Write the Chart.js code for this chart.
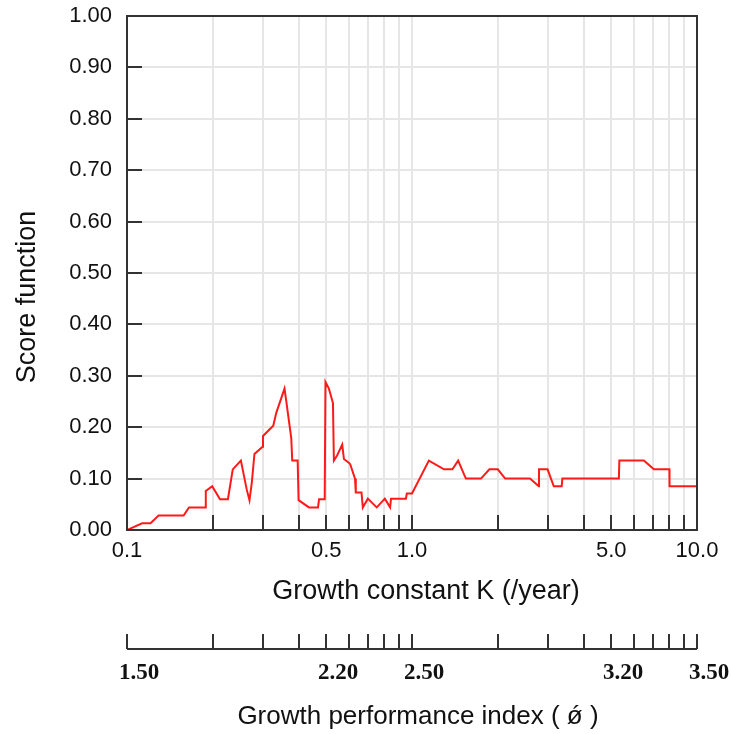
<!DOCTYPE html>
<html>
<head>
<meta charset="utf-8">
<script src="https://cdn.jsdelivr.net/npm/chart.js@4/dist/chart.umd.min.js"></script>
<style>
  html, body { margin: 0; padding: 0; background: #ffffff; }
  #wrap { width: 731px; height: 734px; position: relative; }
</style>
</head>
<body>
<div id="wrap"><canvas id="c" width="731" height="734"></canvas></div>
<script>
// Growth constant K (/year) and the ELEFAN score function at each K
const growthK = [0.1, 0.113, 0.121, 0.129, 0.158, 0.165, 0.188, 0.189, 0.199, 0.212,
  0.226, 0.235, 0.251, 0.263, 0.269, 0.274, 0.280, 0.299, 0.300, 0.326,
  0.334, 0.357, 0.361, 0.377, 0.380, 0.397, 0.400, 0.435, 0.468, 0.472,
  0.494, 0.497, 0.511, 0.528, 0.532, 0.546, 0.569, 0.577, 0.600, 0.607,
  0.631, 0.635, 0.665, 0.672, 0.700, 0.752, 0.803, 0.838, 0.844, 0.952,
  0.959, 1.0, 1.146, 1.295, 1.386, 1.452, 1.545, 1.746, 1.869, 2.0,
  2.123, 2.594, 2.785, 2.79, 2.99, 3.144, 3.352, 3.37, 5.32, 5.34,
  6.51, 7.06, 8.0, 8.01, 10];
const scoreValues = [0, 0.013, 0.013, 0.028, 0.028, 0.044, 0.044, 0.076, 0.085, 0.060,
  0.060, 0.118, 0.135, 0.079, 0.058, 0.091, 0.148, 0.162, 0.183, 0.203,
  0.228, 0.275, 0.256, 0.179, 0.135, 0.135, 0.058, 0.044, 0.044, 0.060,
  0.060, 0.288, 0.275, 0.247, 0.135, 0.145, 0.166, 0.138, 0.131, 0.128,
  0.100, 0.073, 0.073, 0.044, 0.061, 0.044, 0.061, 0.044, 0.061, 0.061,
  0.071, 0.071, 0.135, 0.118, 0.118, 0.135, 0.100, 0.100, 0.118, 0.118,
  0.100, 0.100, 0.085, 0.118, 0.118, 0.085, 0.085, 0.100, 0.100, 0.135,
  0.135, 0.118, 0.118, 0.085, 0.085];

// Axis ticks
const kTicks = [0.1, 0.2, 0.3, 0.4, 0.5, 0.6, 0.7, 0.8, 0.9, 1, 2, 3, 4, 5, 6, 7, 8, 9, 10];
const kLabelled = [0.1, 0.5, 1, 5, 10];
const scoreTicks = [0, 0.1, 0.2, 0.3, 0.4, 0.5, 0.6, 0.7, 0.8, 0.9, 1];
// Growth performance index: phi' = log10(K) + phiOffset
const phiLabelledK = [0.1, 0.5, 1, 5, 10];
const phiOffset = 2.5;

const SANS = "'Liberation Sans', Arial, sans-serif";
const SERIF = "'Liberation Serif', 'Times New Roman', serif";
const INK = '#333333';

const frameAndExtras = {
  id: 'frameAndExtras',
  afterDraw(chart) {
    const { ctx, chartArea: a, scales: { x, y } } = chart;
    ctx.save();
    ctx.strokeStyle = INK;
    ctx.lineWidth = 2;
    ctx.lineCap = 'butt';

    // inward tick marks
    ctx.beginPath();
    scoreTicks.forEach(v => {
      if (v <= 0 || v >= 1) return;
      const py = Math.round(y.getPixelForValue(v));
      ctx.moveTo(a.left, py); ctx.lineTo(a.left + 15, py);
    });
    kTicks.forEach(v => {
      if (v <= 0.1 || v >= 10) return;
      const px = Math.round(x.getPixelForValue(v));
      ctx.moveTo(px, a.bottom); ctx.lineTo(px, a.bottom - 15);
    });
    ctx.stroke();

    // plot frame
    ctx.strokeRect(a.left, a.top, a.right - a.left, a.bottom - a.top);

    // axis titles
    ctx.fillStyle = '#111111';
    ctx.textAlign = 'center';
    ctx.textBaseline = 'middle';
    ctx.font = '27px ' + SANS;
    ctx.fillText('Growth constant K (/year)', 426, 592);
    ctx.save();
    ctx.translate(28, 297);
    ctx.rotate(-Math.PI / 2);
    ctx.fillText('Score function', 0, 0);
    ctx.restore();

    // growth performance index axis
    const axisY = 649;
    ctx.beginPath();
    ctx.moveTo(x.getPixelForValue(0.1), axisY);
    ctx.lineTo(x.getPixelForValue(10), axisY);
    kTicks.forEach(v => {
      const px = Math.round(x.getPixelForValue(v));
      ctx.moveTo(px, axisY); ctx.lineTo(px, axisY - 15);
    });
    ctx.stroke();
    ctx.font = 'bold 23px ' + SERIF;
    phiLabelledK.forEach(v => {
      const px = x.getPixelForValue(v);
      ctx.fillText((Math.log10(v) + phiOffset).toFixed(2), px + 12, 673);
    });
    ctx.font = '26px ' + SANS;
    ctx.fillText('Growth performance index ( \u01FF )', 418, 717);
    ctx.restore();
  }
};

new Chart(document.getElementById('c'), {
  type: 'line',
  data: {
    datasets: [{
      data: growthK.map((k, i) => ({ x: k, y: scoreValues[i] })),
      borderColor: '#ff1a1a',
      borderWidth: 2,
      pointRadius: 0,
      tension: 0,
      fill: false
    }]
  },
  options: {
    responsive: false,
    devicePixelRatio: 1,
    animation: false,
    layout: { padding: { top: 16, right: 34, left: 0, bottom: 0 } },
    plugins: { legend: { display: false }, tooltip: { enabled: false } },
    scales: {
      x: {
        type: 'logarithmic',
        min: 0.1,
        max: 10,
        afterBuildTicks: s => { s.ticks = kTicks.map(v => ({ value: v })); },
        afterFit: s => { s.height = 204; s.paddingLeft = 0; s.paddingRight = 0; },
        ticks: {
          autoSkip: false,
          maxRotation: 0,
          padding: 8,
          color: '#111111',
          font: { family: SANS, size: 22 },
          callback: v => kLabelled.includes(v) ? Number(v).toFixed(1) : ''
        },
        grid: { color: '#e6e6e6', lineWidth: 2, drawTicks: false },
        border: { display: false }
      },
      y: {
        type: 'linear',
        min: 0,
        max: 1,
        afterBuildTicks: s => { s.ticks = scoreTicks.map(v => ({ value: v })); },
        afterFit: s => { s.width = 127; s.paddingTop = 0; s.paddingBottom = 0; },
        ticks: {
          padding: 15,
          color: '#111111',
          font: { family: SANS, size: 22 },
          callback: v => Number(v).toFixed(2)
        },
        grid: { color: '#e6e6e6', lineWidth: 2, drawTicks: false },
        border: { display: false }
      }
    }
  },
  plugins: [frameAndExtras]
});
</script>
</body>
</html>
